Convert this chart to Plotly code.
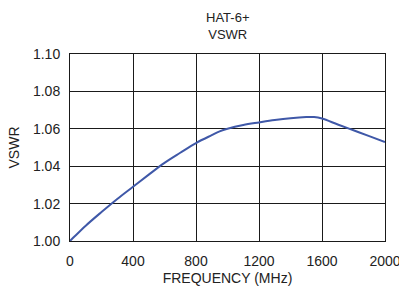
import plotly.graph_objects as go

freq_mhz = [0, 30, 100, 200, 300, 400, 500, 600, 700, 800, 900, 950, 1000,
            1100, 1200, 1300, 1400, 1500, 1550, 1600, 1700, 1800, 1900, 2000]
vswr = [1.000, 1.0025, 1.0082, 1.0155, 1.0225, 1.029, 1.0355, 1.0418,
        1.0472, 1.0524, 1.0566, 1.0586, 1.0600, 1.0620, 1.0634, 1.0647, 1.0657, 1.0663,
        1.0663, 1.0655, 1.0623, 1.0592, 1.0561, 1.0529]
x_ticks = [0, 400, 800, 1200, 1600, 2000]
y_ticks = [1.00, 1.02, 1.04, 1.06, 1.08, 1.10]
title_lines = ["HAT-6+", "VSWR"]

fig = go.Figure()
fig.add_trace(go.Scatter(x=freq_mhz, y=vswr, mode="lines",
                         line=dict(color="#3f58a8", width=2), line_shape="spline",
                         showlegend=False, cliponaxis=False))

font = dict(family="Liberation Sans, Arial, sans-serif", color="#222222")
fig.update_layout(
    width=399, height=286,
    margin=dict(l=70, r=14, t=54, b=45, autoexpand=False),
    paper_bgcolor="white", plot_bgcolor="white",
    font=dict(size=13, **font),
)
fig.add_annotation(text="<br>".join(title_lines), xref="paper", yref="paper",
                   x=0.5, y=1.152, xanchor="center", yanchor="middle",
                   showarrow=False, font=dict(size=13, **font))
fig.update_xaxes(range=[0, 2000], tickvals=x_ticks, ticktext=[str(v) for v in x_ticks],
                 showgrid=True, gridcolor="#1a1a1a", gridwidth=1, automargin=False,
                 showline=True, linecolor="#1a1a1a", linewidth=1, mirror=True,
                 zeroline=False, ticks="", tickfont=dict(size=14), ticklabelstandoff=7,
                 ticklabeloverflow="allow",
                 title=dict(text="FREQUENCY (MHz)", font=dict(size=14), standoff=9))
fig.update_yaxes(range=[1.00, 1.10], tickvals=y_ticks, ticktext=[f"{v:.2f}" for v in y_ticks],
                 showgrid=True, gridcolor="#1a1a1a", gridwidth=1, automargin=False,
                 showline=True, linecolor="#1a1a1a", linewidth=1, mirror=True,
                 zeroline=False, ticks="", tickfont=dict(size=14), ticklabelstandoff=6,
                 ticklabeloverflow="allow",
                 title=dict(text="VSWR", font=dict(size=14), standoff=10))

fig.write_html("out.html", config={"displayModeBar": False},
               post_script="document.body.style.margin='0';document.body.style.overflow='hidden';")
